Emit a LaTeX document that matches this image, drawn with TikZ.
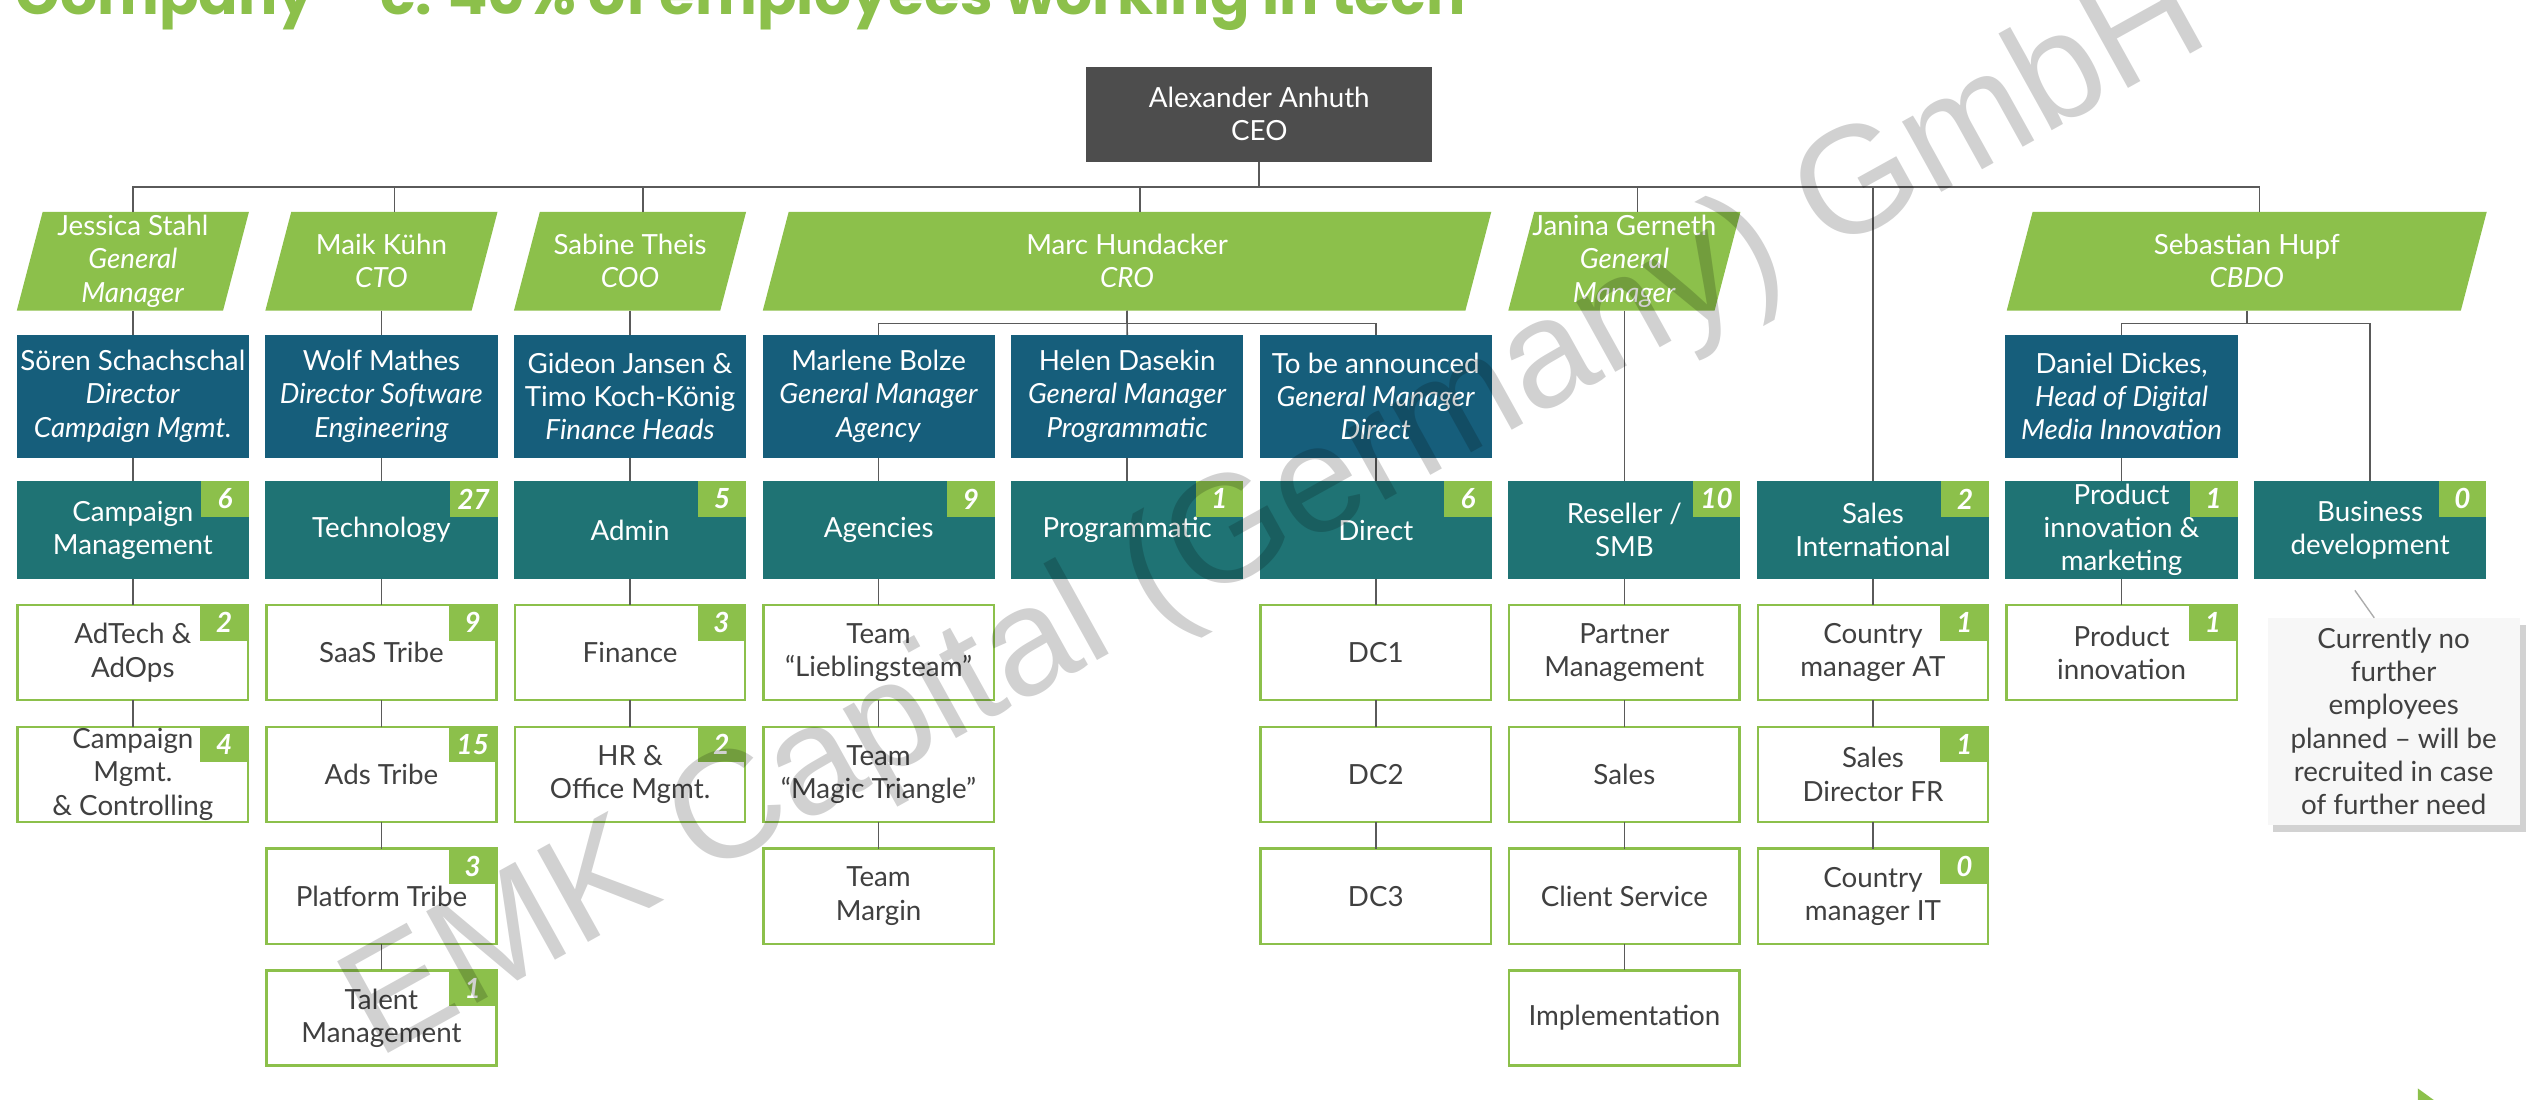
\documentclass[tikz,border=0pt]{standalone}
\usepackage{fontspec}
\setmainfont{Lato}
\newfontfamily\titlefont{Poppins}
\newfontfamily\wmfont{Liberation Sans}
\usetikzlibrary{calc,shadows}
\pgfdeclarelayer{background}
\pgfdeclarelayer{bottom}
\pgfsetlayers{bottom,background,main}
\definecolor{emkgreen}{HTML}{8CC04B}
\definecolor{emkblue}{HTML}{165E7B}
\definecolor{emkteal}{HTML}{1F7374}
\definecolor{ceogray}{HTML}{4D4D4D}
\definecolor{linegray}{HTML}{5A5A5A}
\definecolor{txtgray}{HTML}{404040}
\definecolor{notebg}{HTML}{F7F7F7}
\tikzset{
  base/.style={rectangle, inner sep=0pt, outer sep=0pt, align=center,
    font=\fontsize{12.2}{14.6}\selectfont, minimum width=3.5875cm},
  lead/.style={base, text=white, minimum height=1.525cm},
  headbox/.style={base, fill=emkblue, text=white, minimum height=1.9cm},
  deptbox/.style={base, fill=emkteal, text=white, minimum height=1.5125cm},
  teambox/.style={base, draw=emkgreen, line width=1.1pt, fill=white, text=txtgray,
    minimum width=3.56cm, minimum height=1.47cm},
  badge/.style={rectangle, fill=emkgreen, text=white, inner sep=0pt, outer sep=0pt,
    minimum width=0.7375cm, minimum height=0.55cm, anchor=north east,
    font=\fontsize{12.2}{14}\selectfont\bfseries\itshape},
  link/.style={draw=linegray, line width=0.7pt},
}
\newcommand\paraFill[1]{\fill[emkgreen] (#1.south west) -- ($(#1.south east)+(-16,0)$)
  -- (#1.north east) -- ($(#1.north west)+(16,0)$) -- cycle;}
\newcommand\badgeOn[2]{\node[badge] (#1-b) at (#1.north east) {#2};}

\begin{document}
\begin{tikzpicture}[x=0.025cm, y=-0.025cm]
\useasboundingbox (0,0) rectangle (1568,680);
\clip (0,0) rectangle (1568,680);
\begin{pgfonlayer}{bottom}
\fill[white] (0,0) rectangle (1568,680);
\end{pgfonlayer}

% title (cut at top)
\node[anchor=base west, inner sep=0pt, text=emkgreen] (title) at (9.5,9)
  {\resizebox{22.4cm}{!}{\titlefont\bfseries Company – c. 40\% of employees working in tech}};

% CEO
\node[base, fill=ceogray, text=white, minimum width=5.35cm, minimum height=1.47cm]
  (ceo) at (778.6,70.6) {Alexander Anhuth\\CEO};

% row 1: leaders (parallelograms)
\node[lead] (jessica) at (82.15,161.5) {Jessica Stahl\\\textit{General}\\\textit{Manager}};
\node[lead] (maik) at (235.85,161.5) {Maik Kühn\\\textit{CTO}};
\node[lead] (sabine) at (389.55,161.5) {Sabine Theis\\\textit{COO}};
\node[lead, minimum width=11.2575cm] (marc) at (696.85,161.5) {Marc Hundacker\\\textit{CRO}};
\node[lead] (janina) at (1004.35,161.5) {Janina Gerneth\\\textit{General}\\\textit{Manager}};
\node[lead, minimum width=7.4175cm] (sebastian) at (1389.15,161.5) {Sebastian Hupf\\\textit{CBDO}};
\begin{pgfonlayer}{background}
\paraFill{jessica}\paraFill{maik}\paraFill{sabine}\paraFill{marc}\paraFill{janina}\paraFill{sebastian}
\end{pgfonlayer}

% row 2: heads
\node[headbox] (soeren) at (82.15,245) {Sören Schachschal\\\textit{Director}\\\textit{Campaign Mgmt.}};
\node[headbox] (wolf) at (235.85,245) {Wolf Mathes\\\textit{Director Software}\\\textit{Engineering}};
\node[headbox] (gideon) at (389.55,245) {Gideon Jansen \&\\Timo Koch-König\\\textit{Finance Heads}};
\node[headbox] (marlene) at (543.25,245) {Marlene Bolze\\\textit{General Manager}\\\textit{Agency}};
\node[headbox] (helen) at (696.95,245) {Helen Dasekin\\\textit{General Manager}\\\textit{Programmatic}};
\node[headbox] (tba) at (850.65,245) {To be announced\\\textit{General Manager}\\\textit{Direct}};
\node[headbox] (daniel) at (1311.75,245) {Daniel Dickes,\\\textit{Head of Digital}\\\textit{Media Innovation}};

% row 3: departments
\node[deptbox] (campaign) at (82.15,327.75) {Campaign\\Management};
\node[deptbox] (tech) at (235.85,327.75) {Technology};
\node[deptbox] (admin) at (389.55,327.75) {Admin};
\node[deptbox] (agencies) at (543.25,327.75) {Agencies};
\node[deptbox] (programmatic) at (696.95,327.75) {Programmatic};
\node[deptbox] (direct) at (850.65,327.75) {Direct};
\node[deptbox] (reseller) at (1004.35,327.75) {Reseller /\\SMB};
\node[deptbox] (salesint) at (1158.05,327.75) {Sales\\International};
\node[deptbox] (prodmkt) at (1311.75,327.75) {Product\\innovation \&\\marketing};
\node[deptbox] (bizdev) at (1465.45,327.75) {Business\\development};
\badgeOn{campaign}{6}\badgeOn{tech}{27}\badgeOn{admin}{5}\badgeOn{agencies}{9}
\badgeOn{programmatic}{1}\badgeOn{direct}{6}\badgeOn{reseller}{10}\badgeOn{salesint}{2}
\badgeOn{prodmkt}{1}\badgeOn{bizdev}{0}

% row 4
\node[teambox] (adtech) at (82.15,403.5) {AdTech \&\\AdOps};
\node[teambox] (saas) at (235.85,403.5) {SaaS Tribe};
\node[teambox] (finance) at (389.55,403.5) {Finance};
\node[teambox] (lieb) at (543.25,403.5) {Team\\“Lieblingsteam”};
\node[teambox] (dc1) at (850.65,403.5) {DC1};
\node[teambox] (partner) at (1004.35,403.5) {Partner\\Management};
\node[teambox] (cmat) at (1158.05,403.5) {Country\\manager AT};
\node[teambox] (prodinno) at (1311.75,403.5) {Product\\innovation};
\badgeOn{adtech}{2}\badgeOn{saas}{9}\badgeOn{finance}{3}\badgeOn{cmat}{1}\badgeOn{prodinno}{1}

% row 5
\node[teambox] (campctrl) at (82.15,478.8) {Campaign\\Mgmt.\\\& Controlling};
\node[teambox] (ads) at (235.85,478.8) {Ads Tribe};
\node[teambox] (hr) at (389.55,478.8) {HR \&\\Office Mgmt.};
\node[teambox] (magic) at (543.25,478.8) {Team\\“Magic Triangle”};
\node[teambox] (dc2) at (850.65,478.8) {DC2};
\node[teambox] (sales) at (1004.35,478.8) {Sales};
\node[teambox] (sdfr) at (1158.05,478.8) {Sales\\Director FR};
\badgeOn{campctrl}{4}\badgeOn{ads}{15}\badgeOn{hr}{2}\badgeOn{sdfr}{1}

% row 6
\node[teambox] (platform) at (235.85,554.1) {Platform Tribe};
\node[teambox] (margin) at (543.25,554.1) {Team\\Margin};
\node[teambox] (dc3) at (850.65,554.1) {DC3};
\node[teambox] (client) at (1004.35,554.1) {Client Service};
\node[teambox] (cmit) at (1158.05,554.1) {Country\\manager IT};
\badgeOn{platform}{3}\badgeOn{cmit}{0}

% row 7
\node[teambox] (talent) at (235.85,629.4) {Talent\\Management};
\node[teambox] (impl) at (1004.35,629.4) {Implementation};
\badgeOn{talent}{1}

% callout note
\node[base, fill=notebg, text=txtgray, minimum width=3.9cm, minimum height=3.2cm,
  drop shadow={shadow xshift=2.5pt, shadow yshift=-3pt, opacity=0.35}]
  (note) at (1480,446) {Currently no\\further\\employees\\planned – will be\\recruited in case\\of further need};
\coordinate (ptr) at (1456,365);
\draw[gray!65, line width=0.6pt] (ptr) -- ([xshift=-0.3cm]note.north);

% connectors: CEO to leaders
\draw[link] (ceo.south) -- ++(0,15.7) -| (jessica.north);
\draw[link] (ceo.south) -- ++(0,15.7) -| ([xshift=0.2cm]maik.north);
\draw[link] (ceo.south) -- ++(0,15.7) -| ([xshift=0.2cm]sabine.north);
\draw[link] (ceo.south) -- ++(0,15.7) -| ([xshift=0.2cm]marc.north);
\draw[link] (ceo.south) -- ++(0,15.7) -| ([xshift=0.2cm]janina.north);
\draw[link] (ceo.south) -- ++(0,15.7) -| (salesint.north);
\draw[link] (ceo.south) -- ++(0,15.7) -| ([xshift=0.2cm]sebastian.north);

% leaders to heads
\draw[link] (jessica.south) -- (soeren.north);
\draw[link] (maik.south) -- (wolf.north);
\draw[link] (sabine.south) -- (gideon.north);
\draw[link] (marc.south) -- ++(0,8) -| (marlene.north);
\draw[link] (marc.south) -- (helen.north);
\draw[link] (marc.south) -- ++(0,8) -| (tba.north);
\draw[link] (janina.south) -- (reseller.north);
\draw[link] (sebastian.south) -- ++(0,8) -| (daniel.north);
\draw[link] (sebastian.south) -- ++(0,8) -| (bizdev.north);

% heads to departments
\draw[link] (soeren.south) -- (campaign.north);
\draw[link] (wolf.south) -- (tech.north);
\draw[link] (gideon.south) -- (admin.north);
\draw[link] (marlene.south) -- (agencies.north);
\draw[link] (helen.south) -- (programmatic.north);
\draw[link] (tba.south) -- (direct.north);
\draw[link] (daniel.south) -- (prodmkt.north);

% department chains
\draw[link] (campaign.south) -- (adtech.north);
\draw[link] (adtech.south) -- (campctrl.north);
\draw[link] (tech.south) -- (saas.north);
\draw[link] (saas.south) -- (ads.north);
\draw[link] (ads.south) -- (platform.north);
\draw[link] (platform.south) -- (talent.north);
\draw[link] (admin.south) -- (finance.north);
\draw[link] (finance.south) -- (hr.north);
\draw[link] (agencies.south) -- (lieb.north);
\draw[link] (lieb.south) -- (magic.north);
\draw[link] (magic.south) -- (margin.north);
\draw[link] (direct.south) -- (dc1.north);
\draw[link] (dc1.south) -- (dc2.north);
\draw[link] (dc2.south) -- (dc3.north);
\draw[link] (reseller.south) -- (partner.north);
\draw[link] (partner.south) -- (sales.north);
\draw[link] (sales.south) -- (client.north);
\draw[link] (client.south) -- (impl.north);
\draw[link] (salesint.south) -- (cmat.north);
\draw[link] (cmat.south) -- (sdfr.north);
\draw[link] (sdfr.south) -- (cmit.north);
\draw[link] (prodmkt.south) -- (prodinno.north);

% small green arrow at bottom right (cut)
\fill[emkgreen] (1495,673) -- (1506,681) -- (1495,689) -- cycle;

% watermark
\node[font=\wmfont\fontsize{67}{72}\selectfont, text=black, text opacity=0.18,
  rotate=29, inner sep=0pt, anchor=base west] (wm) at (233,655) {EMK Capital (Germany) GmbH};
\end{tikzpicture}
\end{document}
